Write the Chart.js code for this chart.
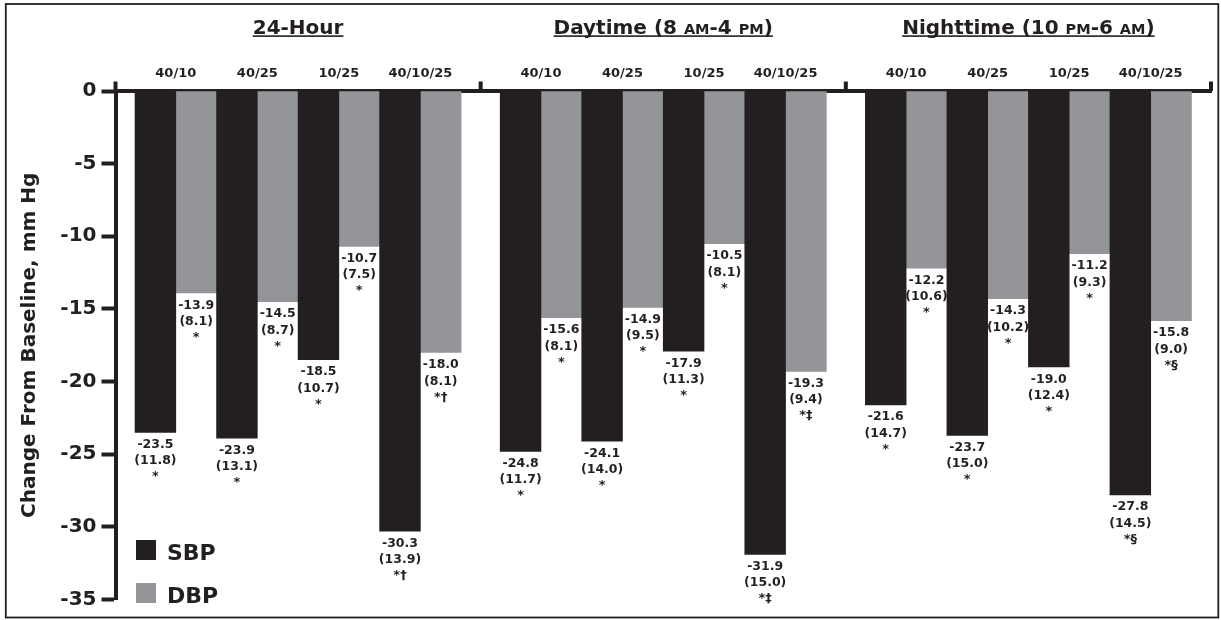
<!DOCTYPE html>
<html>
<head>
<meta charset="utf-8">
<script src="https://cdn.jsdelivr.net/npm/chart.js@4.4.1/dist/chart.umd.min.js"></script>
<style>
html,body{margin:0;padding:0;background:#fff;}
#wrap{width:1221px;height:620px;position:relative;}
canvas{display:block;}
</style>
</head>
<body>
<div id="wrap"><canvas id="c" width="1221" height="620"></canvas></div>
<script>
// ---- data ----
const groupTitles = ['24-Hour', 'Daytime (8 AM-4 PM)', 'Nighttime (10 PM-6 AM)'];
const doses = ['40/10', '40/25', '10/25', '40/10/25'];
const sbpMean = [-23.5, -23.9, -18.5, -30.3, -24.8, -24.1, -17.9, -31.9, -21.6, -23.7, -19.0, -27.8];
const sbpSD   = [11.8, 13.1, 10.7, 13.9, 11.7, 14.0, 11.3, 15.0, 14.7, 15.0, 12.4, 14.5];
const sbpSig  = ['*', '*', '*', '*†', '*', '*', '*', '*‡', '*', '*', '*', '*§'];
const dbpMean = [-13.9, -14.5, -10.7, -18.0, -15.6, -14.9, -10.5, -19.3, -12.2, -14.3, -11.2, -15.8];
const dbpSD   = [8.1, 8.7, 7.5, 8.1, 8.1, 9.5, 8.1, 9.4, 10.6, 10.2, 9.3, 9.0];
const dbpSig  = ['*', '*', '*', '*†', '*', '*', '*', '*‡', '*', '*', '*', '*§'];
const seriesNames = ['SBP', 'DBP'];
const yTitle = 'Change From Baseline, mm Hg';

// ---- layout helpers ----
const INK = '#231f20';
const GREY = '#939598';
const FONT = "'DejaVu Sans', sans-serif";
const GAP = 0.479;                    // gap between groups, in pair widths
const STEP = doses.length + GAP;
const pairX = (g, s) => g * STEP + s;
const xMin = -0.5 - GAP / 2;
const xMax = (groupTitles.length - 1) * STEP + doses.length - 0.5 + GAP / 2;
const boundaries = groupTitles.map((_, g) => g * STEP - 0.5 - GAP / 2).concat([xMax]);

const xs = [], xLabels = [];
groupTitles.forEach((_, g) => doses.forEach((d, s) => { xs.push(pairX(g, s)); xLabels.push(d); }));

const sets = [
  { mean: sbpMean, sd: sbpSD, sig: sbpSig, color: INK },
  { mean: dbpMean, sd: dbpSD, sig: dbpSig, color: GREY }
];

Chart.defaults.font.family = FONT;
Chart.defaults.color = INK;

const decor = {
  id: 'decor',
  afterDatasetsDraw(chart) {
    const ctx = chart.ctx;
    ctx.save();
    chart.data.datasets.forEach((ds, di) => {
      const meta = chart.getDatasetMeta(di);
      const info = sets[di];
      meta.data.forEach((el, i) => {
        ctx.fillStyle = INK;
        ctx.textAlign = 'center';
        ctx.textBaseline = 'alphabetic';
        ctx.font = "bold 12.5px " + FONT;
        ctx.fillText(info.mean[i].toFixed(1), el.x, el.y + 15.6);
        ctx.fillText('(' + info.sd[i].toFixed(1) + ')', el.x, el.y + 32);
        ctx.font = "bold 13px " + FONT;
        ctx.fillText(info.sig[i], el.x, el.y + 48);
      });
    });
    ctx.restore();
  },
  afterDraw(chart) {
    const ctx = chart.ctx;
    const sx = chart.scales.x;
    const area = chart.chartArea;
    ctx.save();
    ctx.fillStyle = INK;
    boundaries.forEach(b => {
      const px = sx.getPixelForValue(b);
      ctx.fillRect(px - 2, area.top - 9.5, 4, 9.5);
    });
    groupTitles.forEach((t, g) => {
      const cx = sx.getPixelForValue((pairX(g, 0) + pairX(g, doses.length - 1)) / 2);
      const parts = t.split(/(AM|PM)/).filter(p => p.length).map(p => ({ p, small: p === 'AM' || p === 'PM' }));
      let total = 0;
      parts.forEach(o => {
        ctx.font = (o.small ? "bold 14.5px " : "bold 20px ") + FONT;
        o.w = ctx.measureText(o.p).width;
        total += o.w;
      });
      let x = cx - total / 2;
      const base = 34;
      ctx.textAlign = 'left';
      ctx.textBaseline = 'alphabetic';
      parts.forEach(o => {
        ctx.font = (o.small ? "bold 14.5px " : "bold 20px ") + FONT;
        ctx.fillText(o.p, x, base);
        x += o.w;
      });
      ctx.fillRect(cx - total / 2, base + 1.3, total, 1.6);
    });
    ctx.textAlign = 'left';
    ctx.textBaseline = 'alphabetic';
    ctx.font = "bold 22px " + FONT;
    chart.data.datasets.forEach((ds, di) => {
      const y0 = 540 + di * 43;
      ctx.fillStyle = ds.backgroundColor;
      ctx.fillRect(136, y0, 20, 20);
      ctx.fillStyle = INK;
      ctx.fillText(ds.label, 167, y0 + 20);
    });
    ctx.strokeStyle = INK;
    ctx.lineWidth = 1.8;
    ctx.strokeRect(5.8, 4, 1212.5, 613.5);
    ctx.restore();
  }
};

new Chart(document.getElementById('c'), {
  type: 'bar',
  data: {
    datasets: sets.map((s, di) => ({
      label: seriesNames[di],
      data: xs.map((x, i) => ({ x, y: s.mean[i] })),
      backgroundColor: s.color,
      borderWidth: 0,
      categoryPercentage: 1,
      barPercentage: 1
    }))
  },
  options: {
    responsive: false,
    animation: false,
    devicePixelRatio: 1,
    layout: { padding: { top: 0, left: 0, right: 10, bottom: 20.5 } },
    plugins: { legend: { display: false }, tooltip: { enabled: false } },
    scales: {
      x: {
        type: 'linear',
        position: 'top',
        offset: false,
        min: xMin,
        max: xMax,
        afterBuildTicks: s => { s.ticks = xs.map(v => ({ value: v })); },
        ticks: {
          autoSkip: false, maxRotation: 0, minRotation: 0, padding: 9.5,
          color: INK, font: { size: 13, weight: 'bold' },
          callback: (v, i) => xLabels[i]
        },
        grid: { offset: false, drawOnChartArea: false, drawTicks: false },
        border: { display: true, color: INK, width: 4 },
        afterFit: s => { s.height = 91; }
      },
      y: {
        min: -35,
        max: 0,
        ticks: { stepSize: 5, color: INK, padding: 5, font: { size: 20, weight: 'bold' } },
        grid: { drawOnChartArea: false, drawTicks: true, tickLength: 14, tickWidth: 4, tickColor: INK },
        border: { display: true, color: INK, width: 4 },
        title: { display: true, text: yTitle, color: INK, font: { size: 20, weight: 'bold' }, padding: { top: 17.5, bottom: 0 } },
        afterFit: s => { s.width = 115.5; }
      }
    }
  },
  plugins: [decor]
});
</script>
</body>
</html>
